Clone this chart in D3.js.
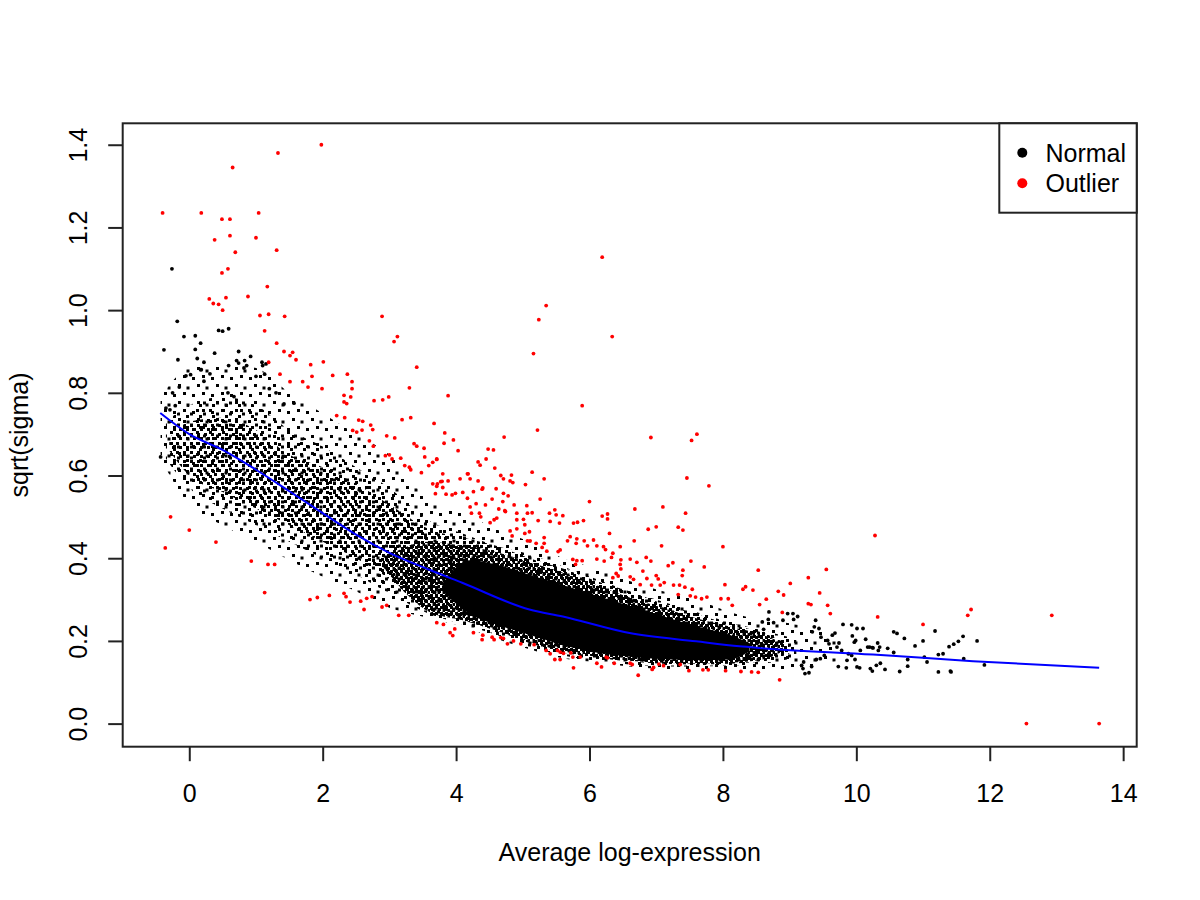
<!DOCTYPE html>
<html>
<head>
<meta charset="utf-8">
<script src="https://cdn.jsdelivr.net/npm/d3@7"></script>
<style>
  body { margin: 0; background: #fff; }
  svg text { font-family: "Liberation Sans", Arial, sans-serif; fill: #000; }
</style>
</head>
<body>
<svg id="chart" width="1200" height="900"></svg>
<script>
// 数据范围（R 默认 4% 扩展）
const xRange = [-0.435, 13.64];
const yRange = [0, 1.396];
const xTicks = [0, 2, 4, 6, 8, 10, 12, 14];
const yTicks = [0, 0.2, 0.4, 0.6, 0.8, 1.0, 1.2, 1.4];

// 点云外层（稀疏）范围
const outerX  = [-0.43, 0, 0.5, 1, 1.5, 2, 2.5, 3, 3.6, 4.1, 4.6, 5.1, 5.6, 6.1, 6.6, 7.1, 7.6, 8.1, 8.6, 9.1, 9.7];
const outerHi = [0.79, 0.86, 0.87, 0.86, 0.80, 0.75, 0.70, 0.65, 0.54, 0.51, 0.47, 0.44, 0.40, 0.375, 0.345, 0.32, 0.30, 0.27, 0.25, 0.24, 0.21];
const outerLo = [0.64, 0.53, 0.48, 0.44, 0.395, 0.355, 0.32, 0.28, 0.255, 0.235, 0.205, 0.18, 0.158, 0.148, 0.138, 0.132, 0.13, 0.13, 0.128, 0.135, 0.15];
// 中层
const midX  = [-0.35, 0, 0.5, 1, 1.5, 2, 2.5, 3, 3.6, 4.1, 4.6, 5.1, 5.6, 6.1, 6.6, 7.1, 7.6, 8.1, 8.6, 9.1];
const midHi = [0.73, 0.77, 0.79, 0.77, 0.71, 0.67, 0.62, 0.57, 0.49, 0.46, 0.43, 0.41, 0.38, 0.35, 0.32, 0.295, 0.27, 0.245, 0.225, 0.205];
const midLo = [0.64, 0.57, 0.52, 0.48, 0.44, 0.40, 0.36, 0.315, 0.265, 0.24, 0.215, 0.185, 0.165, 0.152, 0.143, 0.138, 0.138, 0.14, 0.145, 0.16];
// 内层
const innerX  = [-0.3, 0, 0.5, 1, 1.5, 2, 2.5, 3, 3.6, 4.1, 4.6, 5.1, 5.6, 6.1, 6.6, 7.1, 7.6, 8.1, 8.6, 9.0];
const innerHi = [0.69, 0.73, 0.74, 0.71, 0.65, 0.62, 0.58, 0.53, 0.47, 0.45, 0.43, 0.40, 0.375, 0.345, 0.32, 0.29, 0.265, 0.24, 0.22, 0.19];
const innerLo = [0.66, 0.60, 0.56, 0.52, 0.48, 0.44, 0.40, 0.35, 0.27, 0.25, 0.225, 0.195, 0.172, 0.16, 0.15, 0.145, 0.143, 0.145, 0.15, 0.17];
// 密集层
const denseX  = [2.9, 3.6, 4.1, 4.6, 5.1, 5.6, 6.1, 6.6, 7.1, 7.6, 8.1, 8.6, 8.9];
const denseHi = [0.40, 0.44, 0.43, 0.415, 0.39, 0.365, 0.335, 0.305, 0.28, 0.255, 0.235, 0.215, 0.195];
const denseLo = [0.38, 0.27, 0.25, 0.225, 0.198, 0.175, 0.162, 0.152, 0.147, 0.145, 0.147, 0.155, 0.175];
// 实心核心
const coreX  = [3.8, 4.2, 4.6, 5.1, 5.6, 6.1, 6.6, 7.1, 7.6, 8.1, 8.4];
const coreHi = [0.34, 0.395, 0.385, 0.36, 0.335, 0.31, 0.285, 0.26, 0.235, 0.215, 0.195];
const coreLo = [0.32, 0.265, 0.24, 0.215, 0.19, 0.172, 0.162, 0.156, 0.153, 0.155, 0.175];

// 单独可见的黑点（边缘）
const normalPts = [
  [-0.26,1.10],[-0.18,0.973],[-0.08,0.936],[0.09,0.938],[0.17,0.92],[-0.38,0.904],[0.09,0.905],[0.38,0.896],
  [0.74,0.90],[0.92,0.888],[0.44,0.951],[0.50,0.949],[0.59,0.955],[-0.17,0.88],[0.12,0.883],[0.22,0.874],
  [0.71,0.878],[0.74,0.872],[0.83,0.878],[0.86,0.866],[1.09,0.874],[1.15,0.87],[1.10,0.866],[0.18,0.856],
  [0.59,0.866],[0.82,0.86],[-0.43,0.645],[-0.25,0.80],[-0.15,0.814],[-0.05,0.841],[0.02,0.844],[0.17,0.856],
  [0.31,0.846],[0.22,0.828],[0.58,0.80],[0.67,0.791],[-0.35,0.763],[-0.29,0.759],[-0.21,0.769],[1.0,0.84],
  [1.13,0.845],[1.2,0.81],[1.3,0.80],[1.42,0.773],[1.57,0.775],
  [11.18,0.224],[11.81,0.20],[11.60,0.211],[11.53,0.199],[11.46,0.192],[11.39,0.186],[11.0,0.20],[10.72,0.206],
  [10.56,0.222],[10.61,0.218],[10.88,0.188],[11.30,0.169],[11.23,0.167],[11.61,0.157],[11.92,0.142],[11.02,0.161],
  [11.06,0.149],[11.23,0.125],[11.41,0.127],[11.42,0.125],[10.77,0.139],[10.65,0.126],[10.77,0.155],[10.43,0.131],
  [10.56,0.172],[10.47,0.182],[10.32,0.195],[10.35,0.185],[10.25,0.183],[10.17,0.185],[10.10,0.23],[10.01,0.23],
  [9.93,0.239],[9.80,0.24],[9.94,0.212],[9.99,0.201],[9.97,0.197],[10.06,0.177],[10.14,0.204],[10.20,0.185],
  [10.24,0.184],[10.33,0.177],[10.01,0.137],[10.05,0.135],[10.21,0.133],[10.24,0.127],[10.30,0.141],[10.36,0.146],
  [9.85,0.135],[9.73,0.138],[9.86,0.153],[9.98,0.155],[9.39,0.25],[9.37,0.234],[9.44,0.23],[9.34,0.222],
  [9.68,0.219],[9.64,0.214],[9.47,0.209],[9.57,0.201],[9.59,0.193],[9.74,0.195],[9.71,0.185],[9.78,0.177],
  [9.88,0.169],[9.93,0.165],[9.23,0.121],[9.29,0.123],[9.20,0.133],[9.33,0.138],[9.18,0.141],[9.21,0.149],
  [9.40,0.155],[9.46,0.157],[9.52,0.165],[9.05,0.266],[9.12,0.259],[9.06,0.252],[8.97,0.266],[8.90,0.25],
  [8.76,0.244],[8.69,0.27],[8.68,0.252],[8.61,0.228],[8.59,0.246]
];

// 红色离群点
const outlierPts = [
  [1.98,1.40],[1.33,1.38],[0.65,1.345],[-0.40,1.235],[0.18,1.235],[0.49,1.22],[0.61,1.22],[1.04,1.235],
  [0.38,1.17],[0.61,1.18],[1.00,1.175],[0.69,1.14],[1.31,1.145],[0.58,1.10],[0.49,1.09],[1.17,1.057],
  [0.30,1.027],[0.55,1.03],[0.36,1.016],[0.44,1.014],[0.88,1.033],[0.50,1.00],[1.06,0.987],[1.19,0.99],
  [1.43,0.985],[2.89,0.985],[1.13,0.95],[3.12,0.936],[3.07,0.924],[1.31,0.92],[1.42,0.90],[1.55,0.898],
  [1.51,0.89],[1.60,0.88],[1.19,0.874],[1.82,0.868],[2.01,0.875],[3.41,0.862],
  [1.36,0.845],[1.51,0.827],[1.70,0.827],[1.84,0.84],[1.78,0.814],[1.99,0.81],[2.15,0.842],[2.37,0.845],
  [2.44,0.827],[2.44,0.81],[2.32,0.794],[2.42,0.79],[2.32,0.778],[2.36,0.774],[2.77,0.781],[2.90,0.783],
  [2.99,0.79],[3.30,0.812],[2.21,0.745],[2.33,0.74],[2.54,0.734],[2.60,0.731],[2.72,0.722],[2.75,0.711],
  [2.45,0.709],[2.51,0.705],[2.59,0.71],[3.19,0.735],[3.32,0.74],[3.67,0.726],[2.96,0.696],[3.08,0.691],
  [2.70,0.684],[2.76,0.671],[3.37,0.677],[3.41,0.671],[3.52,0.666],[2.94,0.648],[3.0,0.65],[3.04,0.64],
  [3.17,0.642],[3.23,0.624],[3.30,0.62],[3.32,0.614],[3.48,0.607],[3.53,0.645],[3.59,0.624],[3.65,0.632],
  [3.71,0.64],[3.65,0.58],[3.71,0.574],[3.79,0.586],[3.69,0.556],
  [-0.28,0.50],[0.0,0.468],[-0.36,0.425],[0.40,0.439],[0.93,0.393],[1.18,0.385],[1.28,0.385],[1.13,0.317],
  [1.81,0.30],[1.92,0.305],[2.10,0.31],[2.32,0.315],[2.35,0.307],[2.41,0.294],[2.57,0.296],[2.66,0.303],
  [2.74,0.307],[2.62,0.276],[2.89,0.282],[2.96,0.286],[3.14,0.262],[3.29,0.262],
  [6.19,1.128],[5.35,1.011],[5.24,0.977],[6.34,0.936],[5.16,0.895],[3.88,0.793],[5.89,0.769],[3.83,0.703],
  [3.82,0.678],[3.96,0.686],[4.72,0.693],[5.22,0.71],[6.92,0.692],[7.61,0.70],[7.53,0.685],[4.03,0.66],
  [4.48,0.664],[4.56,0.662],[3.71,0.639],[4.33,0.633],[4.45,0.64],[4.36,0.625],[4.58,0.618],[3.80,0.604],
  [3.88,0.587],[3.77,0.585],[3.72,0.58],[4.06,0.592],[4.21,0.592],[4.17,0.604],[4.33,0.587],[4.67,0.60],
  [4.71,0.592],[4.83,0.601],[4.81,0.587],[4.85,0.583],[5.14,0.608],[5.04,0.578],[5.32,0.592],[7.46,0.594],
  [7.79,0.575],[4.40,0.57],[4.60,0.568],[3.80,0.571],
  [4.18,0.604],[3.85,0.555],[3.94,0.553],[3.99,0.557],[4.10,0.559],[4.26,0.561],[4.39,0.567],[4.71,0.557],
  [4.78,0.551],[4.17,0.545],[4.54,0.543],[4.70,0.537],[5.26,0.543],[4.87,0.529],[5.06,0.527],[4.30,0.532],
  [4.44,0.529],[4.21,0.524],[4.64,0.519],[4.73,0.515],[4.23,0.509],[4.35,0.509],[4.37,0.50],[4.51,0.486],
  [4.57,0.493],[4.61,0.497],[4.74,0.513],[4.91,0.509],[4.91,0.493],[5.01,0.494],[5.07,0.509],[5.14,0.51],
  [5.23,0.491],[5.40,0.509],[5.48,0.517],[5.50,0.505],[5.60,0.503],[5.55,0.485],[5.41,0.489],[5.82,0.487],
  [5.91,0.491],[5.76,0.485],[6.0,0.537],[6.19,0.502],[6.27,0.507],[6.27,0.495],[6.68,0.519],[7.10,0.524],
  [7.44,0.509],[7.33,0.475],[7.40,0.468],[6.88,0.47],[7.0,0.476],[6.30,0.46],[6.67,0.442],[6.46,0.428],
  [7.08,0.43],[8.0,0.428],[4.81,0.466],[4.91,0.471],[4.84,0.454],[5.03,0.481],[5.03,0.46],[5.10,0.464],
  [5.07,0.442],[5.11,0.442],[5.20,0.436],[5.32,0.45],[5.32,0.436],[5.29,0.426],[5.36,0.417],[5.53,0.416],
  [5.56,0.42],[5.67,0.442],[5.71,0.452],[5.81,0.447],[5.80,0.436],[5.92,0.442],[5.97,0.43],[6.06,0.444],
  [6.11,0.43],[6.21,0.428],[6.24,0.421],[6.35,0.412],[6.33,0.402],[5.75,0.397],[5.81,0.394],[5.89,0.394],
  [5.79,0.385],[6.11,0.398],[6.22,0.393],[6.47,0.396],[6.61,0.398],[6.71,0.39],[6.85,0.402],[6.92,0.393],
  [6.46,0.385],[6.47,0.374],[6.40,0.363],[6.35,0.353],[6.43,0.357],[6.61,0.355],[6.66,0.349],[6.76,0.336],
  [6.86,0.351],[6.93,0.335],[7.0,0.358],[7.03,0.35],[7.12,0.341],[7.06,0.335],[6.80,0.369],[7.18,0.382],
  [7.25,0.389],[7.40,0.371],[7.39,0.358],[7.52,0.393],[7.72,0.379],[7.26,0.335],[7.35,0.335],[7.43,0.33],
  [7.54,0.325],[7.33,0.312],[7.51,0.309],[7.59,0.306],[7.68,0.302],[7.76,0.306],[7.97,0.302],[8.03,0.336],
  [8.08,0.302],[8.14,0.286],[8.30,0.325],[8.34,0.331],[8.45,0.323],[8.53,0.371],[8.55,0.288],
  [3.71,0.244],[3.81,0.24],[3.91,0.22],[3.95,0.213],[3.98,0.229],[4.26,0.22],[4.40,0.214],[4.39,0.203],
  [4.54,0.209],[4.57,0.203],[4.67,0.208],[4.71,0.206],[4.77,0.193],[4.86,0.2],[4.97,0.193],[5.17,0.191],
  [5.35,0.177],[5.41,0.169],[5.52,0.177],[5.56,0.173],[5.61,0.17],[5.72,0.171],[5.75,0.161],[5.86,0.161],
  [5.48,0.155],[5.56,0.155],[5.76,0.135],[6.11,0.146],[6.18,0.137],[6.25,0.161],[6.27,0.159],[6.37,0.146],
  [6.61,0.146],[6.64,0.143],[6.73,0.117],[6.94,0.131],[6.96,0.136],[7.04,0.144],[7.11,0.14],[7.36,0.143],
  [7.49,0.128],[7.70,0.13],[7.78,0.13],[8.04,0.128],[8.27,0.126],[8.43,0.125],[8.53,0.124],
  [10.28,0.455],[9.55,0.373],[9.28,0.353],[9.01,0.339],[8.83,0.32],[8.91,0.311],[9.45,0.316],[8.65,0.301],
  [9.28,0.29],[9.32,0.288],[9.57,0.286],[8.89,0.269],[9.61,0.266],[10.32,0.258],[11.0,0.24],[11.72,0.276],
  [11.67,0.262],[12.93,0.262],[8.85,0.106],[12.55,0.0],[13.64,0.0]
];

// 拟合趋势线 (lowess)
const trendX = [-0.435, 0, 0.5, 1, 1.5, 2, 2.5, 3, 3.6, 4.1, 5.1, 5.6, 6.6, 7.6, 8.25, 8.55, 10.25, 11.75, 13.64];
const trendY = [0.751, 0.70, 0.662, 0.614, 0.562, 0.509, 0.457, 0.413, 0.372, 0.34, 0.276, 0.259, 0.219, 0.199, 0.187, 0.183, 0.167, 0.151, 0.135];

const legendLabels = ["Normal", "Outlier"];
const legendColors = ["#000000", "#ff0000"];

// 画布与比例尺
const svg = d3.select("#chart");
const plot = { left: 122.7, right: 1136.7, top: 123.3, bottom: 746.7 };
const xPad = (xRange[1] - xRange[0]) * 0.04;
const yPad = (yRange[1] - yRange[0]) * 0.04;
const x = d3.scaleLinear().domain([xRange[0] - xPad, xRange[1] + xPad]).range([plot.left, plot.right]);
const y = d3.scaleLinear().domain([yRange[0] - yPad, yRange[1] + yPad]).range([plot.bottom, plot.top]);

// 点云纹理
const defs = svg.append("defs");
function addPattern(id, w, h, dots) {
    const p = defs.append("pattern").attr("id", id)
        .attr("patternUnits", "userSpaceOnUse").attr("width", w).attr("height", h);
    dots.forEach(d => p.append("rect").attr("x", d[0]).attr("y", d[1])
        .attr("width", 3).attr("height", 3).attr("fill", "#000"));
}
addPattern("patOuter", 19, 17, [[2, 3], [12, 1], [7, 10], [15.5, 12.5]]);
addPattern("patMid", 13, 11, [[1, 2], [8, 5.5], [4, 8]]);
addPattern("patInner", 7, 9, [[1, 1], [4, 5]]);
addPattern("patDense", 5, 6, [[0, 0], [2.5, 3]]);

function band(xs, his, los) {
    return xs.map((d, i) => ({ x: d, hi: his[i], lo: los[i] }));
}
const area = d3.area()
    .x(d => x(d.x)).y0(d => y(d.lo)).y1(d => y(d.hi))
    .curve(d3.curveMonotoneX);

const cloud = svg.append("g");
cloud.append("path").datum(band(outerX, outerHi, outerLo)).attr("d", area).attr("fill", "url(#patOuter)");
cloud.append("path").datum(band(midX, midHi, midLo)).attr("d", area).attr("fill", "url(#patMid)");
cloud.append("path").datum(band(innerX, innerHi, innerLo)).attr("d", area).attr("fill", "url(#patInner)");
cloud.append("path").datum(band(denseX, denseHi, denseLo)).attr("d", area).attr("fill", "url(#patDense)");
cloud.append("path").datum(band(coreX, coreHi, coreLo)).attr("d", area).attr("fill", "#000");

// 散点
svg.append("g").selectAll("circle").data(normalPts).join("circle")
    .attr("cx", d => x(d[0])).attr("cy", d => y(d[1])).attr("r", 1.9).attr("fill", "#000");
svg.append("g").selectAll("circle").data(outlierPts).join("circle")
    .attr("cx", d => x(d[0])).attr("cy", d => y(d[1])).attr("r", 1.9).attr("fill", "#ff0000");

// 趋势线
const line = d3.line().x(d => x(d[0])).y(d => y(d[1])).curve(d3.curveMonotoneX);
svg.append("path").datum(trendX.map((d, i) => [d, trendY[i]]))
    .attr("d", line).attr("fill", "none").attr("stroke", "#0000ff").attr("stroke-width", 2);

// 边框
svg.append("rect")
    .attr("x", plot.left).attr("y", plot.top)
    .attr("width", plot.right - plot.left).attr("height", plot.bottom - plot.top)
    .attr("fill", "none").attr("stroke", "#222").attr("stroke-width", 2);

// 坐标轴
const xAxis = svg.append("g").attr("transform", `translate(0,${plot.bottom})`)
    .call(d3.axisBottom(x).tickValues(xTicks).tickSize(14.5).tickSizeOuter(0).tickFormat(d3.format("d")));
xAxis.select(".domain").remove();
xAxis.selectAll("line").attr("stroke", "#222").attr("stroke-width", 2);
xAxis.selectAll("text").attr("y", 55).attr("dy", null)
    .style("font-size", "25px").style("font-family", "Liberation Sans, Arial, sans-serif");

const yAxis = svg.append("g").attr("transform", `translate(${plot.left},0)`)
    .call(d3.axisLeft(y).tickValues(yTicks).tickSize(14.5).tickSizeOuter(0).tickFormat(d3.format(".1f")));
yAxis.select(".domain").remove();
yAxis.selectAll("line").attr("stroke", "#222").attr("stroke-width", 2);
yAxis.selectAll("text").attr("x", null).attr("dy", null)
    .attr("transform", `translate(${86.7 - plot.left},0) rotate(-90)`)
    .attr("text-anchor", "middle")
    .style("font-size", "25px").style("font-family", "Liberation Sans, Arial, sans-serif");

// 轴标题
svg.append("text").attr("x", (plot.left + plot.right) / 2).attr("y", 861)
    .attr("text-anchor", "middle").style("font-size", "25px").text("Average log-expression");
svg.append("text").attr("transform", `translate(28,${(plot.top + plot.bottom) / 2}) rotate(-90)`)
    .attr("text-anchor", "middle").style("font-size", "25px").text("sqrt(sigma)");

// 图例
const legend = svg.append("g");
legend.append("rect").attr("x", 999.3).attr("y", plot.top)
    .attr("width", plot.right - 999.3).attr("height", 212.7 - plot.top)
    .attr("fill", "#fff").attr("stroke", "#222").attr("stroke-width", 2);
legendLabels.forEach((lab, i) => {
    legend.append("circle").attr("cx", 1022.3).attr("cy", 152.7 + i * 30.6).attr("r", 5).attr("fill", legendColors[i]);
    legend.append("text").attr("x", 1045.5).attr("y", 161.7 + i * 30.3).style("font-size", "25px").text(lab);
});
</script>
</body>
</html>
